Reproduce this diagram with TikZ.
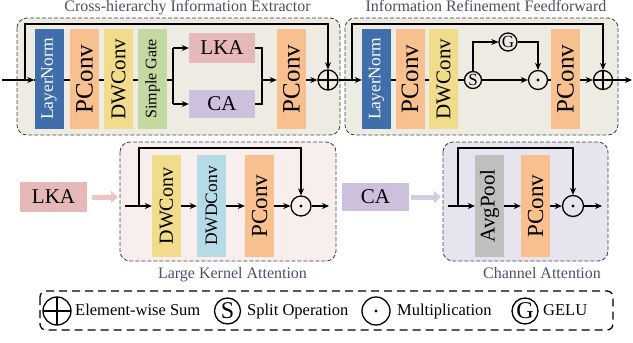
\documentclass[tikz,border=0pt]{standalone}
\usepackage{fontspec}
\setmainfont{Liberation Serif}
\usetikzlibrary{arrows.meta}
\pgfdeclarelayer{bg}
\pgfdeclarelayer{ln}
\pgfsetlayers{bg,ln,main}
\definecolor{cBeige}{HTML}{EDEBE2}
\definecolor{cBlue}{HTML}{3F6EAA}
\definecolor{cOrange}{HTML}{F9C08F}
\definecolor{cYellow}{HTML}{F1DC8B}
\definecolor{cGreen}{HTML}{C4D99F}
\definecolor{cPink}{HTML}{E7B8B8}
\definecolor{cPurple}{HTML}{CCC0DC}
\definecolor{cLBlue}{HTML}{B5DCE6}
\definecolor{cGray}{HTML}{BFBFBF}
\definecolor{cPinkBox}{HTML}{F8EEEE}
\definecolor{cPurpleBox}{HTML}{E7E4EF}
\definecolor{cPinkArr}{HTML}{EEC3C3}
\definecolor{cPurpleArr}{HTML}{D6CBE3}
\definecolor{cTitle}{HTML}{4A5165}
\begin{document}
\begin{tikzpicture}[x=1pt,y=-1pt,
  container/.style={draw=black!75, dash pattern=on 4pt off 2pt, rounded corners=10pt, line width=0.8pt},
  legbox/.style={draw=black, dash pattern=on 8pt off 5pt, rounded corners=6pt, line width=1.3pt},
  blk/.style={rectangle, minimum width=29pt, minimum height=100pt, inner sep=0pt},
  lbl/.style={rectangle, minimum width=66pt, minimum height=30pt, inner sep=0pt, font=\fontsize{21}{21}\selectfont},
  wire/.style={line width=1.3pt},
  arr/.style={wire, -{Stealth[length=7pt,width=6pt]}},
  fat/.style={line width=5pt, -{Triangle[length=7pt,width=12pt]}},
  op/.style={circle, draw, line width=1.3pt, inner sep=0pt},
  sumop/.style={op, path picture={\draw[line width=1.3pt] (path picture bounding box.north) -- (path picture bounding box.south) (path picture bounding box.west) -- (path picture bounding box.east);}},
  mulop/.style={op, path picture={\fill (path picture bounding box.center) circle (1.6pt);}},
  ttl/.style={text=cTitle, font=\fontsize{16}{16}\selectfont, anchor=base, inner sep=0pt},
  legtxt/.style={font=\fontsize{16.5}{16.5}\selectfont, anchor=base west, inner sep=0pt}
]
\useasboundingbox (0,0) rectangle (633,343);

% ---------- titles ----------
\node[ttl] (t1) at (187.5,11) {Cross-hierarchy Information Extractor};
\node[ttl] (t2) at (486,11) {Information Refinement Feedforward};
\node[ttl] (t3) at (232.5,278) {Large Kernel Attention};
\node[ttl] (t4) at (542,278) {Channel Attention};

% ---------- containers ----------
\begin{pgfonlayer}{bg}
\draw[container, fill=cBeige] (17,18) rectangle (340,135);
\draw[container, fill=cBeige] (345,18) rectangle (618,135);
\draw[container, fill=cPinkBox] (120,142) rectangle (336,261);
\draw[container, fill=cPurpleBox] (443,142) rectangle (608,261);
\end{pgfonlayer}

% ---------- top row blocks ----------
\node[blk, fill=cBlue, text=white, font=\fontsize{17.5}{17.5}\selectfont] (ln1) at (49,79) {\rotatebox{90}{LayerNorm}};
\node[blk, fill=cOrange, font=\fontsize{25}{25}\selectfont] (pc1) at (84.5,79) {\rotatebox{90}{PConv}};
\node[blk, fill=cYellow, font=\fontsize{21}{21}\selectfont] (dw1) at (118.5,79) {\rotatebox{90}{DWConv}};
\node[blk, fill=cGreen, font=\fontsize{16}{16}\selectfont] (sg1) at (152.5,79) {\rotatebox{90}{Simple Gate}};
\node[lbl, fill=cPink] (lka1) at (222,48) {LKA};
\node[lbl, fill=cPurple, minimum height=28pt] (ca1) at (222,104) {CA};
\node[blk, fill=cOrange, font=\fontsize{25}{25}\selectfont] (pc2) at (291.5,79) {\rotatebox{90}{PConv}};
\node[sumop, minimum size=20pt] (sum1) at (328,80) {};

\node[blk, fill=cBlue, text=white, font=\fontsize{17.5}{17.5}\selectfont] (ln2) at (376.5,79) {\rotatebox{90}{LayerNorm}};
\node[blk, fill=cOrange, font=\fontsize{25}{25}\selectfont] (pc3) at (410,79) {\rotatebox{90}{PConv}};
\node[blk, fill=cYellow, font=\fontsize{21}{21}\selectfont] (dw2) at (443.5,79) {\rotatebox{90}{DWConv}};
\node[op, minimum size=17pt, font=\fontsize{17}{17}\selectfont] (S) at (473,80) {S};
\node[op, minimum size=18pt, font=\fontsize{17}{17}\selectfont] (G) at (508,42) {G};
\node[mulop, minimum size=19pt] (dot1) at (538,80) {};
\node[blk, fill=cOrange, font=\fontsize{25}{25}\selectfont] (pc4) at (565.5,79) {\rotatebox{90}{PConv}};
\node[sumop, minimum size=19pt] (sum2) at (603,80) {};

% ---------- top row wires ----------
\coordinate (in1) at (2,80);
\coordinate (sk1) at (25,80);
\coordinate (top1) at (0,24);
\coordinate (br) at (173,80);
\coordinate (mg) at (262,80);
\coordinate (sk2) at (352,80);
\coordinate (out1) at (632,80);
\begin{pgfonlayer}{ln}
\draw[wire] (ln1.west |- in1) -- (br);
\draw[wire] (ln2.west |- in1) -- (S.west);
\draw[wire] (dot1.east) -- (pc4.west |- in1);
\end{pgfonlayer}
\draw[arr] (in1) -- (ln1.west |- in1);
\draw[arr] (sk1) -- (sk1 |- top1) -- (sum1.north |- top1) -- (sum1.north);
\draw[wire] (br |- lka1) -- (br |- ca1);
\draw[arr] (br |- lka1) -- (lka1.west);
\draw[arr] (br |- ca1) -- (ca1.west);
\draw[wire] (lka1.east) -- (mg |- lka1) -- (mg |- ca1) -- (ca1.east);
\draw[arr] (mg) -- (pc2.west |- mg);
\draw[arr] (pc2.east |- mg) -- (sum1.west);
\draw[arr] (sum1.east) -- (ln2.west |- sum1);
\draw[arr] (sk2) -- (sk2 |- top1) -- (sum2.north |- top1) -- (sum2.north);
\draw[arr] (S.north) |- (G.west);
\draw[arr] (S.east) -- (dot1.west);
\draw[arr] (G.east) -| (dot1.north);
\draw[arr] (pc4.east |- sum2) -- (sum2.west);
\draw[arr] (sum2.east) -- (out1);

% ---------- LKA detail ----------
\node[lbl, fill=cPink, minimum width=67pt] (lkaL) at (53.5,197) {LKA};
\coordinate (fa1s) at (92,197);
\coordinate (fa1e) at (118,197);
\draw[fat, cPinkArr] (fa1s) -- (fa1e);
\node[blk, fill=cYellow, minimum height=102pt, font=\fontsize{20}{20}\selectfont] (dw3) at (166.5,206) {\rotatebox{90}{DWConv}};
\node[blk, fill=cLBlue, minimum height=102pt, font=\fontsize{17.5}{17.5}\selectfont] (dwd) at (211.5,206) {\rotatebox{90}{DWDConv}};
\node[blk, fill=cOrange, minimum height=102pt, font=\fontsize{23}{23}\selectfont] (pc5) at (259.5,206) {\rotatebox{90}{PConv}};
\node[mulop, minimum size=20pt] (dot2) at (301,206) {};
\coordinate (in2) at (125,206);
\coordinate (sk3) at (139,206);
\coordinate (top2) at (0,148);
\coordinate (out2) at (329,206);
\draw[arr] (in2) -- (dw3.west |- in2);
\draw[arr] (sk3) -- (sk3 |- top2) -- (dot2.north |- top2) -- (dot2.north);
\draw[arr] (dw3.east |- in2) -- (dwd.west |- in2);
\draw[arr] (dwd.east |- in2) -- (pc5.west |- in2);
\draw[arr] (pc5.east |- in2) -- (dot2.west);
\draw[arr] (dot2.east) -- (out2);

% ---------- CA detail ----------
\node[lbl, fill=cPurple, minimum width=67pt, minimum height=28pt] (caL) at (375.5,197) {CA};
\coordinate (fa2s) at (411,197);
\coordinate (fa2e) at (441,197);
\draw[fat, cPurpleArr] (fa2s) -- (fa2e);
\node[blk, fill=cGray, minimum height=102pt, font=\fontsize{21}{21}\selectfont] (ap) at (489.5,206) {\rotatebox{90}{AvgPool}};
\node[blk, fill=cOrange, minimum height=102pt, font=\fontsize{23}{23}\selectfont] (pc6) at (535.5,206) {\rotatebox{90}{PConv}};
\node[mulop, minimum size=21pt] (dot3) at (573,206) {};
\coordinate (in3) at (448,206);
\coordinate (sk4) at (458,206);
\coordinate (out3) at (602,206);
\draw[arr] (in3) -- (ap.west |- in3);
\draw[arr] (sk4) -- (sk4 |- top2) -- (dot3.north |- top2) -- (dot3.north);
\draw[arr] (ap.east |- in3) -- (pc6.west |- in3);
\draw[arr] (pc6.east |- in3) -- (dot3.west);
\draw[arr] (dot3.east) -- (out3);

% ---------- legend ----------
\draw[legbox] (40,291) rectangle (613,330);
\node[sumop, minimum size=28pt] (lsum) at (57,311) {};
\node[legtxt] (lsumt) at (75,315) {Element-wise Sum};
\node[op, minimum size=26pt, font=\fontsize{24}{24}\selectfont] (lS) at (227.5,311) {S};
\node[legtxt] (lSt) at (247,315) {Split Operation};
\node[mulop, minimum size=28pt] (ldot) at (376,311) {};
\node[legtxt] (ldott) at (397,315) {Multiplication};
\node[op, minimum size=26pt, font=\fontsize{24}{24}\selectfont] (lG) at (525,311) {G};
\node[legtxt] (lGt) at (543,315) {GELU};
\end{tikzpicture}
\end{document}
